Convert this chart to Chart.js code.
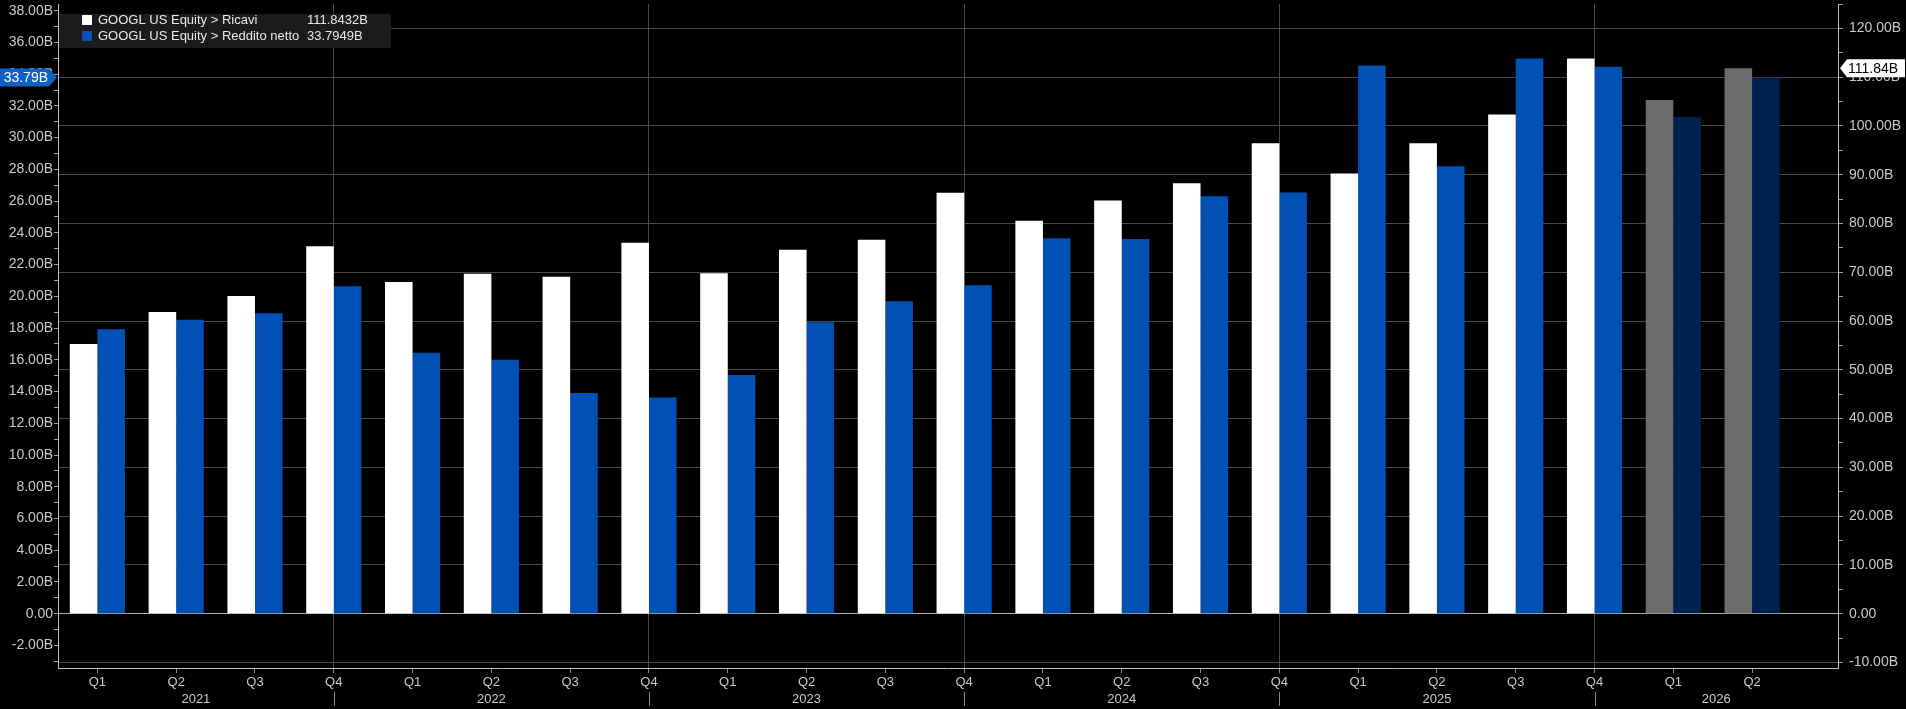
<!DOCTYPE html>
<html><head><meta charset="utf-8">
<script src="https://cdn.jsdelivr.net/npm/chart.js@4.4.1/dist/chart.umd.min.js"></script>
<style>html,body{margin:0;padding:0;background:#000;overflow:hidden}#wrap{width:1906px;height:709px;position:relative}</style>
</head><body><div id="wrap"><canvas id="c" width="1906" height="709"></canvas></div>
<script>
// ---- data ----
const quarters = ['Q1','Q2','Q3','Q4','Q1','Q2','Q3','Q4','Q1','Q2','Q3','Q4','Q1','Q2','Q3','Q4','Q1','Q2','Q3','Q4','Q1','Q2'];
const years = ['2021','2022','2023','2024','2025','2026'];
const quarterYear = [0,0,0,0,1,1,1,1,2,2,2,2,3,3,3,3,4,4,4,4,5,5];
const revenue = [55.31,61.88,65.12,75.33,68.01,69.69,69.09,76.05,69.79,74.60,76.69,86.31,80.54,84.74,88.27,96.47,90.23,96.43,102.35,113.83,105.30,111.8432];
const netIncome = [17.93,18.53,18.94,20.64,16.44,16.00,13.91,13.62,15.05,18.37,19.69,20.69,23.66,23.62,26.30,26.54,34.54,28.20,34.98,34.46,31.30,33.7949];
const isEstimate = [false,false,false,false,false,false,false,false,false,false,false,false,false,false,false,false,false,false,false,false,true,true];
const leftTickLabels = [-2,0,2,4,6,8,10,12,14,16,18,20,22,24,26,28,30,32,34,36,38];
const rightTickLabels = [-10,0,10,20,30,40,50,60,70,80,90,100,110,120];
const seriesNames = ['GOOGL US Equity > Ricavi','GOOGL US Equity > Reddito netto'];

// ---- style ----
const WHITE='#ffffff', GRAY='#6b6b6b', BLUE='#0050b5', NAVY='#00214f';
const GRID='#4a4a4a', TXT='#c8c8c8', FONT="'Liberation Sans', Arial, sans-serif";

function fmt(v){ return v===0 ? '0.00' : v.toFixed(2)+'B'; }

const overlay = {
  id:'overlay',
  afterDraw(chart){
    const ctx = chart.ctx, x = chart.scales.x, yL = chart.scales.yL, yR = chart.scales.yR, ca = chart.chartArea;
    ctx.save();
    // year separators and labels
    ctx.font = '13px '+FONT; ctx.fillStyle = TXT; ctx.textAlign='center'; ctx.textBaseline='middle';
    ctx.strokeStyle = '#8a8a8a'; ctx.lineWidth = 1;
    for (let yi=0; yi<years.length; yi++){
      const idx = quarterYear.map((q,i)=>q===yi?i:-1).filter(i=>i>=0);
      const lastIdx = idx[idx.length-1];
      const isFull = quarters[lastIdx]==='Q4';
      const prevEnd = yi===0 ? ca.left : x.getPixelForValue(idx[0]-1);
      const end = isFull ? x.getPixelForValue(lastIdx) : ca.right;
      ctx.fillText(years[yi], (prevEnd+end)/2, 699);
      if (isFull){
        const px = Math.round(end)+0.5;
        ctx.beginPath(); ctx.moveTo(px,692); ctx.lineTo(px,706); ctx.stroke();
      }
    }
    // legend box
    ctx.fillStyle = '#1b1b1b';
    ctx.fillRect(ca.left+1, 14, 332, 34);
    ctx.font = '13px '+FONT; ctx.textAlign='left'; ctx.textBaseline='middle';
    const rows = [[WHITE, seriesNames[0], revenue[revenue.length-1].toFixed(4)+'B'],
                  [BLUE, seriesNames[1], netIncome[netIncome.length-1].toFixed(4)+'B']];
    rows.forEach((r,i)=>{
      const cy = 20 + i*16;
      ctx.fillStyle = r[0]; ctx.fillRect(82, cy-5, 10, 10);
      ctx.fillStyle = '#e8e8e8';
      ctx.fillText(r[1], 98, cy);
      ctx.fillText(r[2], 307, cy);
    });
    // right badge (last revenue)
    ctx.font = '14px '+FONT;
    const lastR = revenue[revenue.length-1];
    const yr = yR.getPixelForValue(lastR);
    ctx.fillStyle = '#ffffff';
    ctx.beginPath(); ctx.moveTo(ca.right+2, yr); ctx.lineTo(ca.right+9, yr-9); ctx.lineTo(1905, yr-9); ctx.lineTo(1905, yr+9); ctx.lineTo(ca.right+9, yr+9); ctx.closePath(); ctx.fill();
    ctx.fillStyle = '#000'; ctx.textAlign='left';
    ctx.fillText(lastR.toFixed(2)+'B', ca.right+10, yr+1);
    // left badge (last net income)
    const lastN = netIncome[netIncome.length-1];
    const yl = yL.getPixelForValue(lastN);
    ctx.fillStyle = '#1160c4';
    ctx.beginPath(); ctx.moveTo(0, yl-9); ctx.lineTo(ca.left-9, yl-9); ctx.lineTo(ca.left-1, yl); ctx.lineTo(ca.left-9, yl+9); ctx.lineTo(0, yl+9); ctx.closePath(); ctx.fill();
    ctx.fillStyle = '#ffffff'; ctx.textAlign='right';
    ctx.fillText(lastN.toFixed(2)+'B', ca.left-10, yl+1);
    ctx.restore();
  }
};

new Chart(document.getElementById('c'), {
  type:'bar',
  data:{
    datasets:[
      { label: seriesNames[0], yAxisID:'yR', data: revenue.map((v,i)=>({x:i,y:v})),
        backgroundColor: revenue.map((v,i)=>isEstimate[i]?GRAY:WHITE), borderWidth:0 },
      { label: seriesNames[1], yAxisID:'yL', data: netIncome.map((v,i)=>({x:i,y:v})),
        backgroundColor: netIncome.map((v,i)=>isEstimate[i]?NAVY:BLUE), borderWidth:0 }
    ]
  },
  options:{
    responsive:false, animation:false, devicePixelRatio:1,
    categoryPercentage:0.7, barPercentage:1.0,
    layout:{padding:{top:4,left:0,right:0,bottom:0}},
    plugins:{legend:{display:false}, tooltip:{enabled:false}},
    scales:{
      x:{ type:'linear', min:-0.5, max:22.09, offset:false,
        grid:{ offset:false, drawOnChartArea:true, drawTicks:true, tickLength:5,
          color:(c)=> (c.tick && quarters[c.tick.value]==='Q4') ? GRID : 'rgba(0,0,0,0)',
          tickColor:'#8a8a8a' },
        border:{display:true, color:'#c0c0c0'},
        afterBuildTicks:(s)=>{ s.ticks = quarters.map((q,i)=>({value:i})); },
        afterFit:(s)=>{ s.height = 41; s.paddingLeft=0; s.paddingRight=0; },
        ticks:{ autoSkip:false, maxRotation:0, padding:2, color:TXT, font:{size:13, family:FONT},
          callback:(v)=>quarters[v] }
      },
      yL:{ type:'linear', position:'left', min:-3.42, max:38.42,
        grid:{ drawOnChartArea:false, drawTicks:true, tickLength:4, tickColor:'#9a9a9a' },
        border:{display:true, color:'#c0c0c0'},
        afterBuildTicks:(s)=>{ const t=[]; for(let v=-3; v<=38; v++) t.push({value:v}); s.ticks=t; },
        afterFit:(s)=>{ s.width = 58; s.paddingTop=0; s.paddingBottom=0; },
        ticks:{ autoSkip:false, padding:1, color:TXT, font:{size:14, family:FONT},
          callback:(v)=> leftTickLabels.includes(v) ? fmt(v) : '' }
      },
      yR:{ type:'linear', position:'right', min:-11.13, max:125.0,
        grid:{ drawOnChartArea:true, drawTicks:true, tickLength:5,
          color:(c)=> !c.tick ? 'rgba(0,0,0,0)' : (c.tick.value===0 ? '#b0b0b0' : (rightTickLabels.includes(c.tick.value) ? GRID : 'rgba(0,0,0,0)')),
          tickColor:'#9a9a9a' },
        border:{display:true, color:'#c0c0c0'},
        afterBuildTicks:(s)=>{ const t=[]; for(let v=-10; v<=125; v+=5) t.push({value:v}); s.ticks=t; },
        afterFit:(s)=>{ s.width = 68; s.paddingTop=0; s.paddingBottom=0; },
        ticks:{ autoSkip:false, padding:6, color:TXT, font:{size:14, family:FONT},
          callback:(v)=> rightTickLabels.includes(v) ? fmt(v) : '' }
      }
    }
  },
  plugins:[overlay]
});
</script></body></html>
